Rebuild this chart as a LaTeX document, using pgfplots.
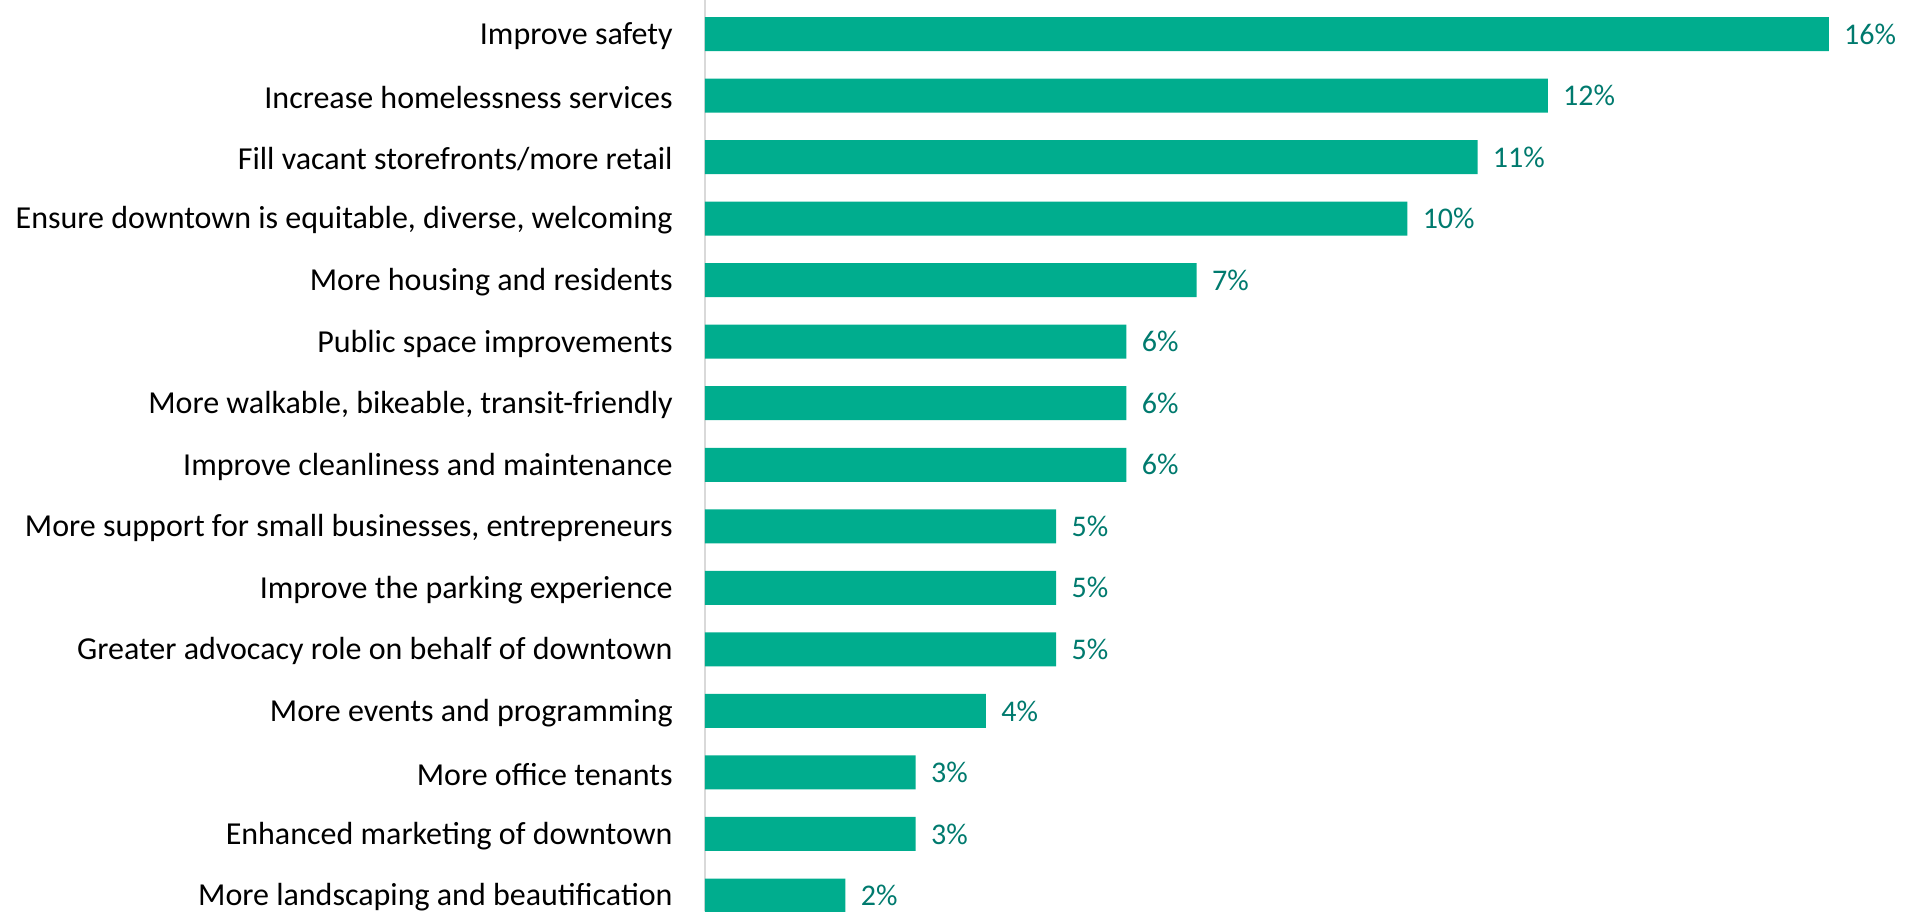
\documentclass[border=0pt]{standalone}
\usepackage{pgfplots}
\pgfplotsset{compat=1.18}
\usepackage{fontspec}
\setmainfont{Carlito}
\definecolor{barc}{RGB}{0,173,142}
\definecolor{valc}{RGB}{0,122,110}
\definecolor{axc}{RGB}{217,217,217}
\begin{document}
\begin{tikzpicture}
\begin{axis}[
  at={(352.5pt,0pt)}, anchor=south west,
  scale only axis,
  width=597pt, height=455.5pt,
  xbar, bar width=17pt,
  xmin=0, xmax=17,
  ymin=0.4475, ymax=15.252,
  y dir=reverse,
  axis lines*=left,
  x axis line style={draw=none},
  y axis line style={draw=axc, line width=1pt},
  xtick=\empty,
  ytick={1,...,15},
  major tick length=0pt,
  yticklabels={Improve safety,Increase homelessness services,Fill vacant storefronts/more retail,{Ensure downtown is equitable, diverse, welcoming},More housing and residents,Public space improvements,{More walkable, bikeable, transit-friendly},Improve cleanliness and maintenance,{More support for small businesses, entrepreneurs},Improve the parking experience,Greater advocacy role on behalf of downtown,More events and programming,More office tenants,Enhanced marketing of downtown,More landscaping and beautification},
  yticklabel style={font=\fontsize{16}{18}\selectfont, inner sep=0pt, anchor=east, xshift=-16pt, yshift=-1pt, text=black},
  nodes near coords={\pgfmathprintnumber{\pgfplotspointmeta}\%},
  /pgf/number format/assume math mode=true,
  every node near coord/.append style={font=\fontsize{15}{17}\selectfont, text=valc, anchor=west, inner sep=0pt, xshift=7.5pt},
]
\addplot[fill=barc, draw=none] coordinates {
(16,1) (12,2) (11,3) (10,4) (7,5) (6,6) (6,7) (6,8) (5,9) (5,10) (5,11) (4,12) (3,13) (3,14) (2,15)
};
\end{axis}
\pgfresetboundingbox
\path[use as bounding box] (0,0) rectangle (961.5pt,455.5pt);
\end{tikzpicture}
\end{document}
